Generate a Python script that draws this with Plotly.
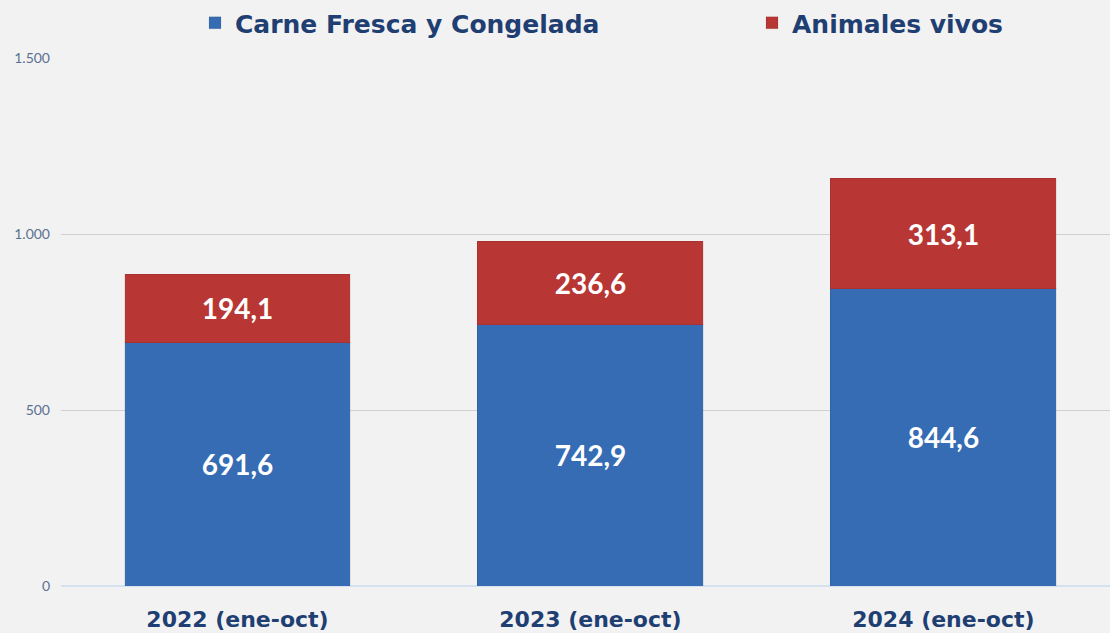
import plotly.graph_objects as go

categories = ["2022 (ene-oct)", "2023 (ene-oct)", "2024 (ene-oct)"]
carne = [691.6, 742.9, 844.6]
animales = [194.1, 236.6, 313.1]
y_ticks = [0, 500, 1000, 1500]

label_font = dict(color="white", size=28, family="Lato", weight="bold")
legend_font = dict(family="DejaVu Sans", size=25, color="#1f3f73", weight="bold")

fig = go.Figure()
fig.add_trace(go.Bar(
    name="Carne Fresca y Congelada", x=categories, y=carne,
    marker=dict(color="#356cb3", line=dict(color="rgba(0,0,0,0.08)", width=1)),
    texttemplate="%{y:.1f}", textposition="inside", insidetextanchor="middle",
    textfont=label_font, width=0.64, legend="legend", showlegend=True,
))
fig.add_trace(go.Bar(
    name="Animales vivos", x=categories, y=animales,
    marker=dict(color="#b83634", line=dict(color="rgba(0,0,0,0.08)", width=1)),
    texttemplate="%{y:.1f}", textposition="inside", insidetextanchor="middle",
    textfont=label_font, width=0.64, legend="legend2", showlegend=True,
))

fig.update_layout(
    barmode="stack",
    showlegend=True,
    width=1110, height=633,
    paper_bgcolor="#f2f2f2", plot_bgcolor="#f2f2f2",
    margin=dict(l=61, r=0, t=58, b=47, autoexpand=False),
    separators=",.",
    uniformtext=dict(minsize=10, mode="show"),
    legend=dict(
        orientation="h", xref="container", yref="container",
        x=195 / 1110, xanchor="left", y=1.0, yanchor="top",
        font=legend_font, bgcolor="rgba(0,0,0,0)", itemwidth=30,
    ),
    legend2=dict(
        orientation="h", xref="container", yref="container",
        x=752 / 1110, xanchor="left", y=1.0, yanchor="top",
        font=legend_font, bgcolor="rgba(0,0,0,0)", itemwidth=30,
    ),
    xaxis=dict(
        range=[-0.5, 2.472],
        tickfont=dict(family="DejaVu Sans", size=22, color="#1f3f73", weight="bold"),
        showgrid=False, showline=False, zeroline=False,
        ticks="", ticklabelstandoff=18,
    ),
    yaxis=dict(
        range=[0, 1500], tickvals=y_ticks, tickformat=",d",
        tickfont=dict(family="Lato", size=14, color="#5b7090"),
        gridcolor="#d0d0d0", gridwidth=1,
        zeroline=True, zerolinecolor="#d6e1ef", zerolinewidth=2,
        ticklabelstandoff=10,
    ),
)

fig.write_html("out.html", config={"displayModeBar": False},
               post_script="document.body.style.margin='0';")
